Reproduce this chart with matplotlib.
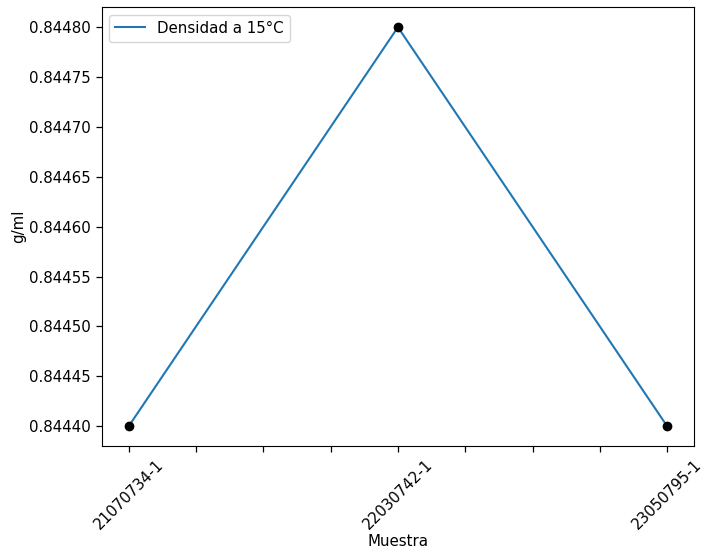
import matplotlib
matplotlib.use("Agg")
import matplotlib.pyplot as plt
import numpy as np

muestras = ["21070734-1", "22030742-1", "23050795-1"]
densidad = [0.8444, 0.8448, 0.8444]

fs = 10.8
fig, ax = plt.subplots(figsize=(7.17, 5.57), dpi=100)
x = np.arange(len(muestras))
ax.plot(x, densidad, color="#1f77b4", label="Densidad a 15°C")
ax.plot(x, densidad, "o", color="black")

ticks = np.arange(0, len(muestras) - 1 + 0.001, 0.25)
labels = [muestras[int(t)] if abs(t - round(t)) < 1e-9 else "" for t in ticks]
ax.set_xticks(ticks)
ax.set_xticklabels(labels, rotation=45, fontsize=fs)
ax.tick_params(axis="both", length=4.5, width=0.9)
ax.tick_params(axis="y", labelsize=fs)
ax.yaxis.set_major_formatter(matplotlib.ticker.FormatStrFormatter("%.5f"))
ax.set_xlabel("Muestra", fontsize=fs, labelpad=1)
ax.set_ylabel("g/ml", fontsize=fs, labelpad=2)
ax.legend(loc="upper left", fontsize=fs)

fig.subplots_adjust(left=0.142, right=0.968, top=0.987, bottom=0.199)
fig.savefig("out.png", dpi=100)
